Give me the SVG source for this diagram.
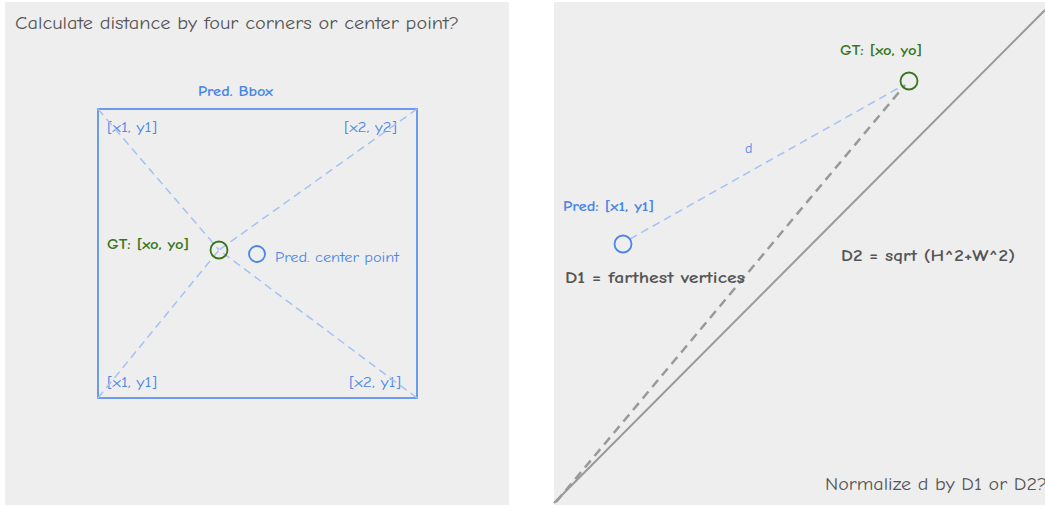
<svg xmlns="http://www.w3.org/2000/svg" width="1045" height="508" viewBox="0 0 1045 508">
<style>
text{font-family:"Comic Sans MS","Comic Neue","Noto Sans",sans-serif}
.t{fill:#555;font-size:18px}
.lb{fill:#4a86e8;font-size:14px}
.bb{fill:#4a86e8;font-size:14px;font-weight:bold}
.gb{fill:#38761d;font-size:14px;font-weight:bold}
.db{fill:#555;font-size:16px;font-weight:bold}
.dl{stroke:#a4c2f4;stroke-width:1.5;stroke-dasharray:8 5;fill:none}
.gc{fill:none;stroke:#38761d;stroke-width:1.8}
.bc{fill:none;stroke:#4a86e8;stroke-width:1.8}
</style>
<rect x="5" y="2" width="504" height="503" fill="#eeeeee"/>
<rect x="554" y="2" width="491" height="503" fill="#eeeeee"/>
<text class="t" x="15" y="29" textLength="444" lengthAdjust="spacingAndGlyphs">Calculate distance by four corners or center point?</text>
<g id="bbox">
<rect x="98" y="109" width="319" height="289" fill="none" stroke="#4a86e8" stroke-width="1.6"/>
<text class="bb" x="198" y="96" textLength="75" lengthAdjust="spacingAndGlyphs">Pred. Bbox</text>
<text class="lb" x="107" y="132" textLength="50" lengthAdjust="spacingAndGlyphs">[x1, y1]</text>
<text class="lb" x="344" y="132" textLength="53" lengthAdjust="spacingAndGlyphs">[x2, y2]</text>
<text class="lb" x="107" y="387" textLength="50" lengthAdjust="spacingAndGlyphs">[x1, y1]</text>
<text class="lb" x="349" y="387" textLength="52" lengthAdjust="spacingAndGlyphs">[x2, y1]</text>
</g>
<g id="connectors">
<line class="dl" x1="98" y1="109" x2="219" y2="250"/>
<line class="dl" x1="417" y1="109" x2="219" y2="250"/>
<line class="dl" x1="98" y1="398" x2="219" y2="250"/>
<line class="dl" x1="417" y1="398" x2="219" y2="250"/>
<line x1="554" y1="503" x2="1045" y2="10" stroke="#999" stroke-width="2"/>
<line x1="556" y1="502" x2="905" y2="85" stroke="#999" stroke-width="2.5" stroke-dasharray="9 6"/>
<line class="dl" x1="630" y1="239" x2="902" y2="86"/>
</g>
<g id="gt-left">
<circle class="gc" cx="219" cy="250" r="8.5" fill="#eee"/>
<text class="gb" x="107" y="249" textLength="82" lengthAdjust="spacingAndGlyphs">GT: [xo, yo]</text>
</g>
<g id="pred-center">
<circle class="bc" cx="257" cy="254" r="8"/>
<text class="lb" x="275" y="262" textLength="124" lengthAdjust="spacingAndGlyphs">Pred. center point</text>
</g>
<g id="gt-right">
<circle class="gc" cx="909" cy="81" r="8.5" fill="#eee"/>
<text class="gb" x="840" y="55" textLength="82" lengthAdjust="spacingAndGlyphs">GT: [xo, yo]</text>
</g>
<g id="pred-right">
<circle class="bc" cx="623" cy="244" r="8.5"/>
<text class="bb" x="563" y="211" textLength="91" lengthAdjust="spacingAndGlyphs">Pred: [x1, y1]</text>
</g>
<text class="lb" x="745" y="153">d</text>
<text class="db" x="565" y="283" textLength="180" lengthAdjust="spacingAndGlyphs">D1 = farthest vertices</text>
<text class="db" x="841" y="261" textLength="174" lengthAdjust="spacingAndGlyphs">D2 = sqrt (H^2+W^2)</text>
<text class="t" x="825" y="490" textLength="222" lengthAdjust="spacingAndGlyphs">Normalize d by D1 or D2?</text>
</svg>
